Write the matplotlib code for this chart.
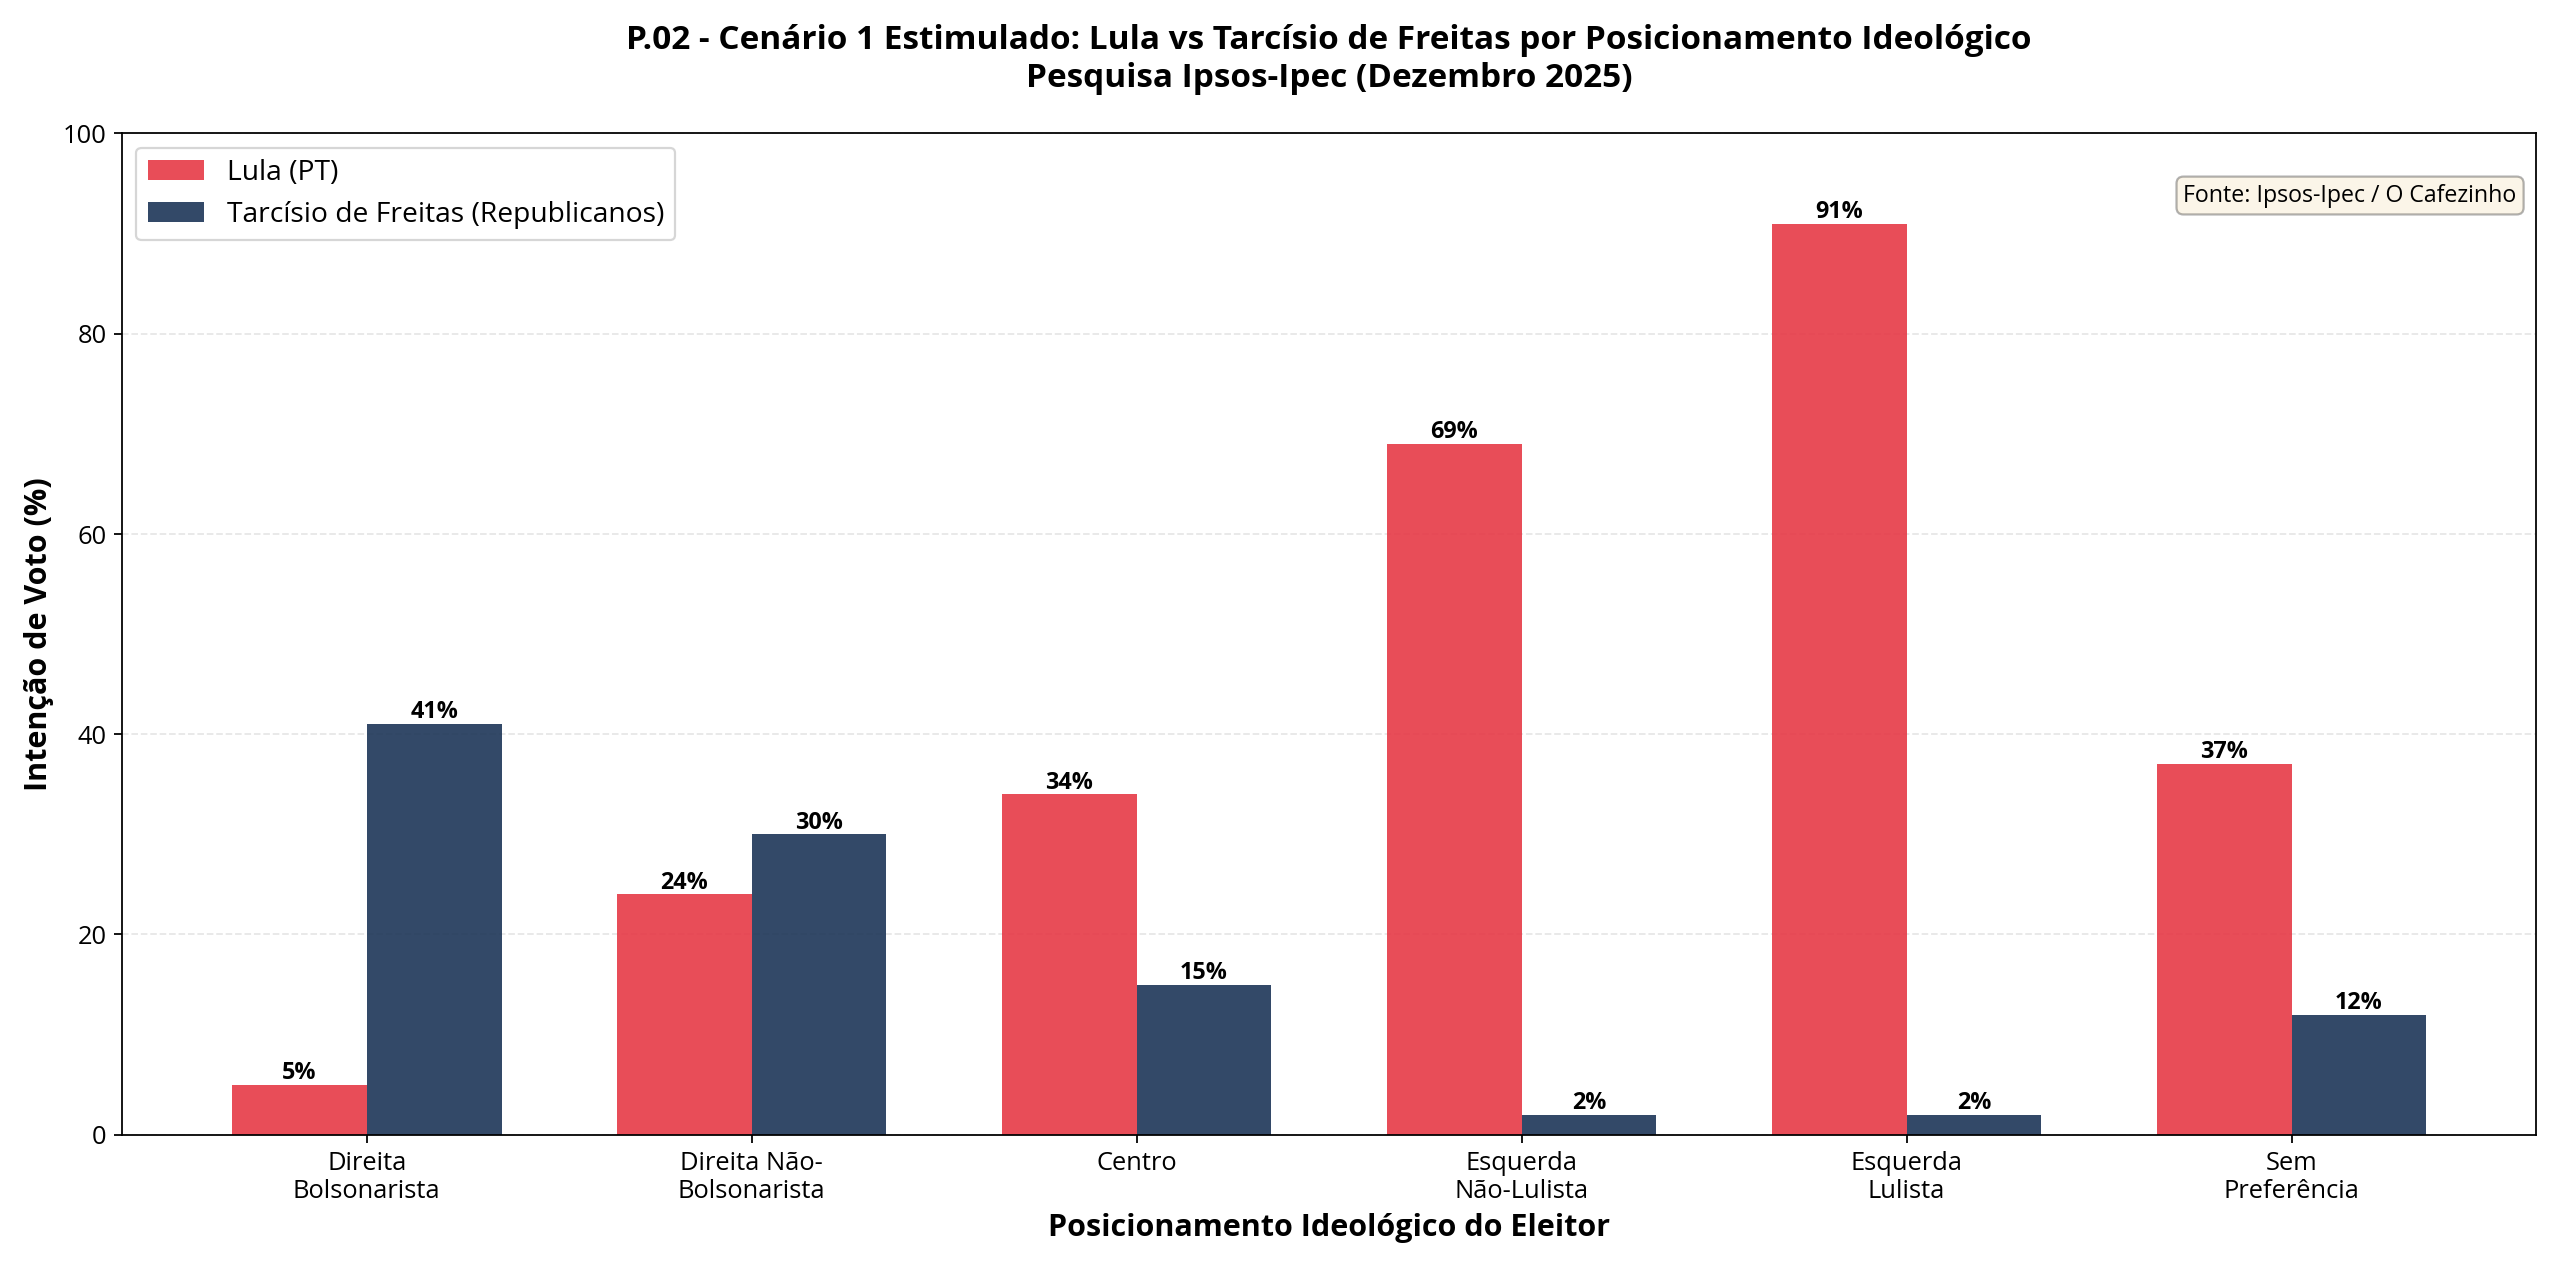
import numpy as np
import matplotlib
matplotlib.use('Agg')
import matplotlib.pyplot as plt

plt.rcParams['font.family'] = ['Open Sans', 'DejaVu Sans']

# dados da pesquisa
categorias = ['Direita\nBolsonarista', 'Direita Não-\nBolsonarista', 'Centro',
              'Esquerda\nNão-Lulista', 'Esquerda\nLulista', 'Sem\nPreferência']
lula = [5, 24, 34, 69, 91, 37]
tarcisio = [41, 30, 15, 2, 2, 12]

x = np.arange(len(categorias))
largura = 0.35

fig, ax = plt.subplots(figsize=(16, 7.92), dpi=160)
b1 = ax.bar(x - largura/2, lula, largura, label='Lula (PT)', color='#E63946', alpha=0.9)
b2 = ax.bar(x + largura/2, tarcisio, largura, label='Tarcísio de Freitas (Republicanos)',
            color='#1D3557', alpha=0.9)

# rotulos de valor
for barras in [b1, b2]:
    for b in barras:
        h = b.get_height()
        ax.text(b.get_x() + b.get_width()/2, h, f'{h:.0f}%', ha='center', va='bottom',
                fontsize=10.5, fontweight='bold')

ax.set_xlabel('Posicionamento Ideológico do Eleitor', fontsize=13.75, fontweight='bold')
ax.set_ylabel('Intenção de Voto (%)', fontsize=13.75, fontweight='bold')
ax.set_title('P.02 - Cenário 1 Estimulado: Lula vs Tarcísio de Freitas por Posicionamento Ideológico\n'
             'Pesquisa Ipsos-Ipec (Dezembro 2025)', fontsize=15, fontweight='bold', pad=21)
ax.set_xticks(x)
ax.set_xticklabels(categorias, fontsize=11.5)
ax.tick_params(axis='y', labelsize=11.5)
ax.set_ylim(0, 100)
ax.legend(loc='upper left', fontsize=12.7)
ax.grid(axis='y', alpha=0.3, linestyle='--')
ax.set_axisbelow(True)

ax.text(0.992, 0.95, 'Fonte: Ipsos-Ipec / O Cafezinho', transform=ax.transAxes,
        fontsize=10.4, ha='right', va='top',
        bbox=dict(boxstyle='round', facecolor='wheat', alpha=0.3))

plt.tight_layout()
plt.savefig('out.png', dpi=160)
